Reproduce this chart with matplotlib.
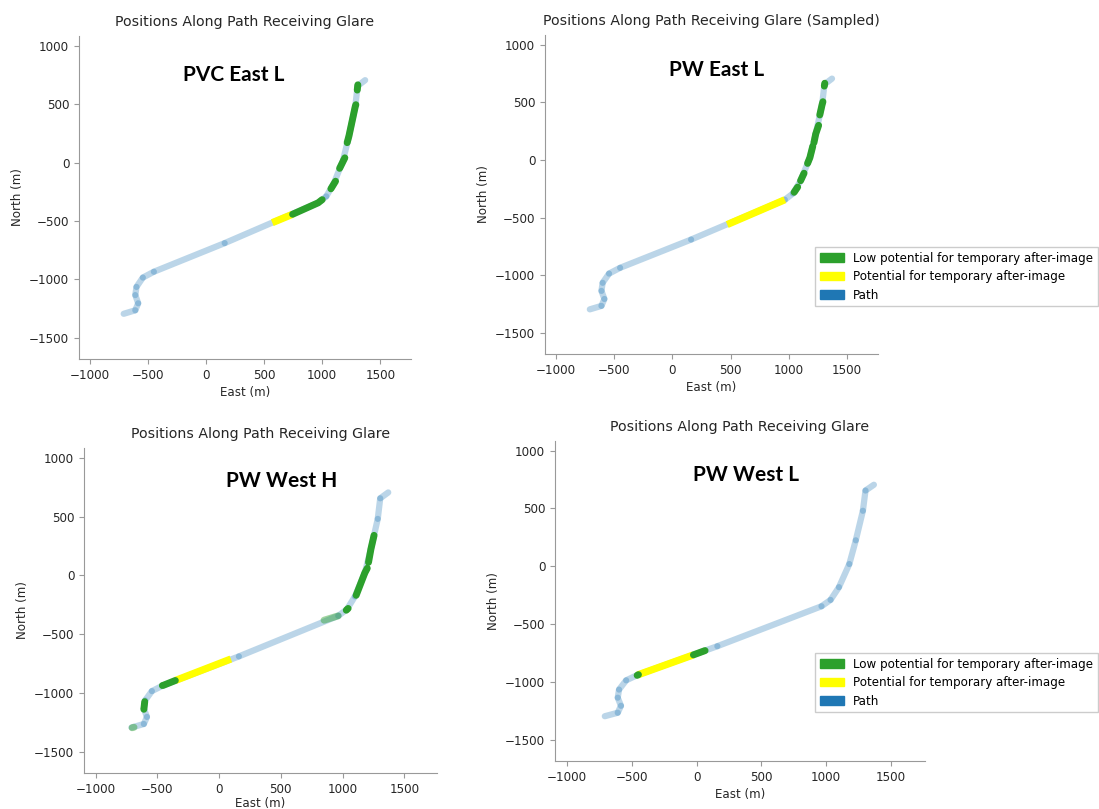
import matplotlib
matplotlib.use("Agg")
import matplotlib.pyplot as plt
from matplotlib.patches import Patch

# path vertices (East, North) in metres
path_x = [-710, -610, -585, -610, -600, -545, -450, 160, 965, 1035, 1100, 1180, 1230, 1285, 1305, 1370]
path_y = [-1295, -1265, -1205, -1135, -1065, -985, -935, -690, -345, -290, -180, 20, 225, 480, 655, 705]

titles = ["Positions Along Path Receiving Glare",
          "Positions Along Path Receiving Glare (Sampled)",
          "Positions Along Path Receiving Glare",
          "Positions Along Path Receiving Glare"]
names = ["PVC East L", "PW East L", "PW West H", "PW West L"]

# glare runs per panel: lists of (x list, y list)
pvc_east_l_yellow = [([570, 745], [-515, -443])]
pvc_east_l_green = [([745, 965, 1000], [-443, -345, -318]),
                    ([1075, 1115], [-225, -160]),
                    ([1150, 1195], [-50, 40]),
                    ([1215, 1230, 1285, 1290], [170, 225, 480, 495]),
                    ([1302, 1307], [620, 665])]

pw_east_l_yellow = [([470, 965], [-560, -345])]
pw_east_l_green = [([1045, 1075], [-280, -235]),
                   ([1100, 1130], [-180, -115]),
                   ([1160, 1180, 1205], [-30, 20, 120]),
                   ([1215, 1230, 1255], [150, 225, 300]),
                   ([1265, 1285, 1292], [390, 480, 505]),
                   ([1304, 1308], [640, 665])]

pw_west_h_yellow = [([-355, 95], [-895, -712])]
pw_west_h_green = [([-460, -450, -355], [-938, -935, -895]),
                   ([-603, -610], [-1075, -1140]),
                   ([1030, 1045], [-297, -282]),
                   ([1110, 1180, 1200], [-170, 20, 60]),
                   ([1210, 1230, 1255], [110, 225, 340])]
pw_west_h_faded = [([850, 965], [-382, -345]),
                   ([-705, -690], [-1297, -1293])]

pw_west_l_yellow = [([-455, -25], [-938, -765])]
pw_west_l_green = [([-460, -450], [-942, -936]),
                    ([-25, 65], [-765, -728])]

yellows = [pvc_east_l_yellow, pw_east_l_yellow, pw_west_h_yellow, pw_west_l_yellow]
greens = [pvc_east_l_green, pw_east_l_green, pw_west_h_green, pw_west_l_green]
faded = [[], [], pw_west_h_faded, []]

legend_labels = ["Low potential for temporary after-image",
                 "Potential for temporary after-image", "Path"]

W, H = 1099, 809
# axes boxes in pixels: left, right, top, bottom
boxes = [(79, 411, 36, 359), (545, 878, 35, 354), (84, 437, 448, 773), (555, 925, 441, 761)]
name_pos = [(234, 75), (717, 70), (282, 481), (746, 475)]
legend_tops = [None, 247, None, 653]
xlabel_pads = [3, 3, 1, 3]

fig = plt.figure(figsize=(W / 100, H / 100), dpi=100)
txt = "#262626"
for i in range(4):
    l, r, t, b = boxes[i]
    ax = fig.add_axes([l / W, 1 - b / H, (r - l) / W, (b - t) / H])
    for j in range(len(path_x) - 1):
        ax.plot(path_x[j:j + 2], path_y[j:j + 2], color="#1f77b4", alpha=0.3, lw=4.5,
                solid_capstyle="round")
    for xs, ys in faded[i]:
        ax.plot(xs, ys, color="#2ca02c", alpha=0.45, lw=5, solid_capstyle="round")
    for xs, ys in yellows[i]:
        ax.plot(xs, ys, color="#ffff00", lw=5.2, solid_capstyle="butt")
    for xs, ys in greens[i]:
        ax.plot(xs, ys, color="#2ca02c", lw=5, solid_capstyle="round")
    ax.set_xlim(-1095, 1765)
    ax.set_ylim(-1682, 1083)
    ax.set_xticks([-1000, -500, 0, 500, 1000, 1500])
    ax.set_yticks([-1500, -1000, -500, 0, 500, 1000])
    ax.spines["top"].set_visible(False)
    ax.spines["right"].set_visible(False)
    for s in ["left", "bottom"]:
        ax.spines[s].set_color("#999999")
    ax.tick_params(colors="#999999", labelcolor=txt, labelsize=8.6, length=3.5)
    ax.set_xlabel("East (m)", fontsize=8.6, color=txt, labelpad=xlabel_pads[i])
    ax.set_ylabel("North (m)", fontsize=8.6, color=txt)
    ax.set_title(titles[i], fontsize=10.2, color=txt, pad=7)
    fig.text(name_pos[i][0] / W, 1 - name_pos[i][1] / H, names[i], ha="center", va="center",
             fontsize=15, fontweight="bold", family="Lato", color="black")
    if legend_tops[i] is not None:
        handles = [Patch(color="#2ca02c"), Patch(color="#ffff00"), Patch(color="#1f77b4")]
        fig.legend(handles, legend_labels, loc="upper left", fontsize=8.6,
                   bbox_to_anchor=(815 / W, 1 - legend_tops[i] / H), borderaxespad=0,
                   fancybox=False, edgecolor="#cccccc", framealpha=1, labelspacing=0.45)

fig.savefig("out.png", dpi=100)
